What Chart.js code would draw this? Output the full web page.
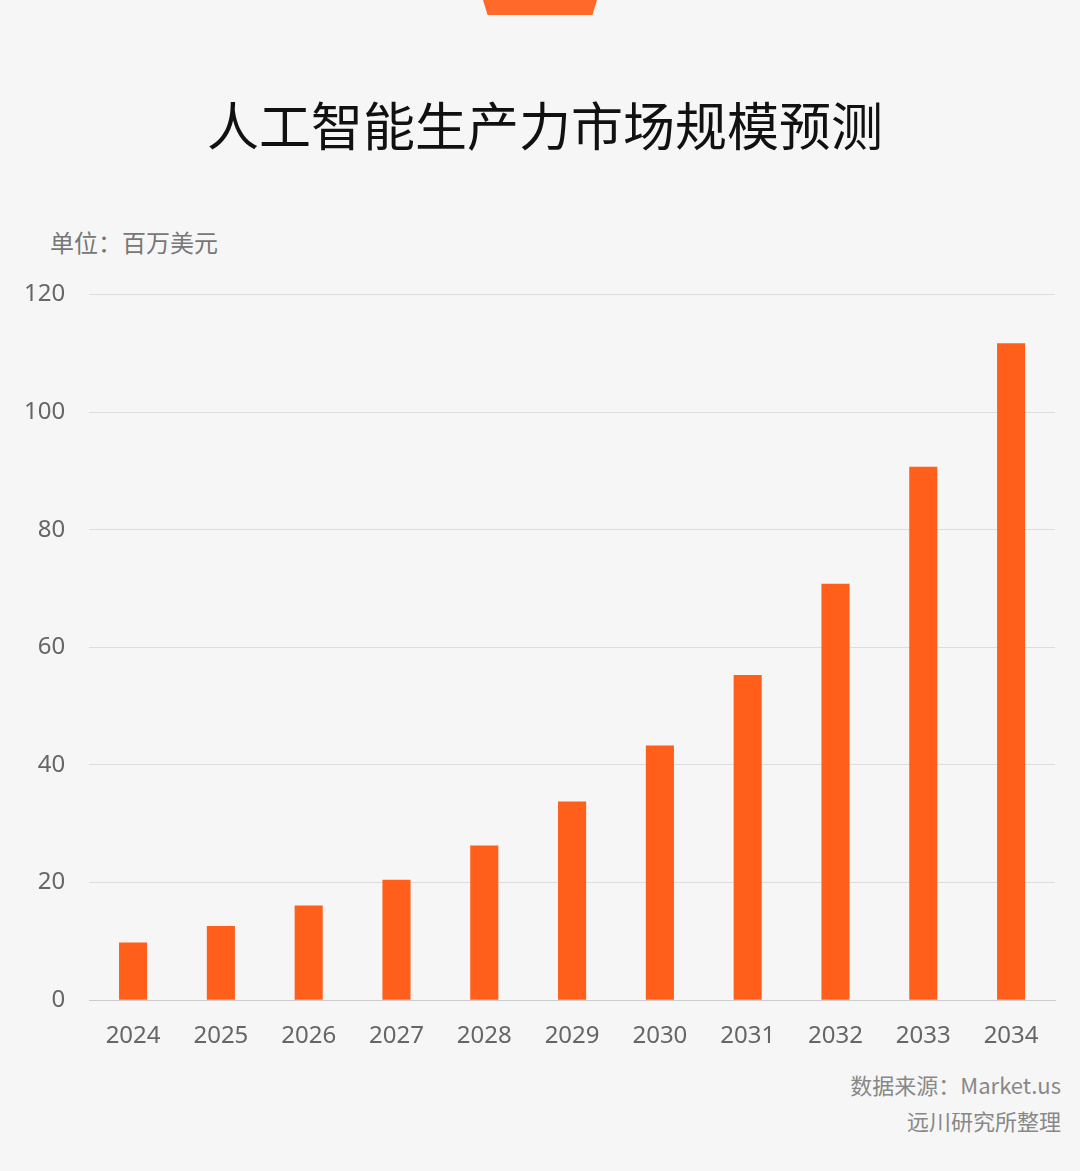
<!DOCTYPE html>
<html><head><meta charset="utf-8">
<script src="https://cdn.jsdelivr.net/npm/chart.js@4"></script>
<style>
body{margin:0;width:1080px;height:1171px;background:#f6f6f6;position:relative;overflow:hidden;font-family:"Noto Sans CJK SC","Noto Sans",sans-serif}
.t{position:absolute;white-space:nowrap}
#tab{position:absolute;left:483px;top:0;width:114px;height:15px;background:#ff6a2a;clip-path:polygon(0 0,100% 0,96% 100%,4% 100%)}
#wrap{position:absolute;left:0;top:256px;width:1080px;height:809px}
</style></head><body>
<div id="tab"></div>
<div class="t" style="left:0;width:1090px;text-align:center;top:86px;font-size:52px;color:#111">人工智能生产力市场规模预测</div>
<div class="t" style="left:50px;top:224px;font-size:24px;color:#777">单位：百万美元</div>
<div class="t" style="right:19px;top:1068px;font-size:22px;color:#888">数据来源：Market.us</div>
<div class="t" style="right:19px;top:1104px;font-size:22px;color:#888">远川研究所整理</div>
<div id="wrap"><canvas id="c"></canvas></div>
<script>
const categories=["2024","2025","2026","2027","2028","2029","2030","2031","2032","2033","2034"];
const values=[9.8,12.6,16.1,20.5,26.3,33.8,43.3,55.3,70.8,90.7,111.7];
const yTicks=[0,20,40,60,80,100,120];
new Chart(document.getElementById('c'),{type:'bar',
data:{labels:categories,datasets:[{data:values,backgroundColor:'#ff5f1a',barPercentage:0.8,categoryPercentage:0.4}]},
options:{responsive:true,maintainAspectRatio:false,animation:false,
layout:{padding:{left:0,right:25,top:24,bottom:0}},
plugins:{legend:{display:false},tooltip:{enabled:false}},
scales:{
x:{grid:{display:false},border:{color:'#ccc'},ticks:{color:'#666',font:{size:24,family:'"Noto Sans","Noto Sans CJK SC"'},padding:14}},
y:{min:0,max:120,afterBuildTicks:a=>{a.ticks=yTicks.map(v=>({value:v}));},grid:{color:'#ddd',drawTicks:false},border:{display:false},
ticks:{color:'#666',font:{size:24,family:'"Noto Sans","Noto Sans CJK SC"'},padding:24}}}}});
</script></body></html>
